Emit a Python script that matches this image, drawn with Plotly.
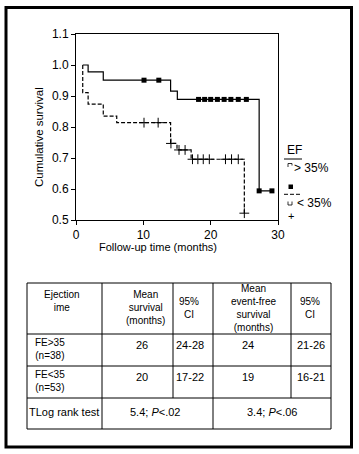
import plotly.graph_objects as go

# ---------------- data ----------------
# EF > 35% (solid) Kaplan-Meier steps
ef_hi_t = [1.0, 1.8, 4.05, 14.05, 15.05, 27.2, 29.1]
ef_hi_s = [1.0, 0.978, 0.951, 0.916, 0.889, 0.594, 0.594]
ef_hi_cens_t = [10.1, 12.3, 18.2, 19.1, 20.0, 21.0, 22.0, 23.0, 24.1, 25.3, 27.2, 29.1]
ef_hi_cens_s = [0.951, 0.951, 0.889, 0.889, 0.889, 0.889, 0.889, 0.889, 0.889, 0.889, 0.594, 0.594]

# EF < 35% (dashed)
ef_lo_t = [1.0, 1.0, 1.8, 4.05, 6.05, 14.05, 15.0, 17.1, 25.0]
ef_lo_s = [1.0, 0.911, 0.874, 0.835, 0.814, 0.747, 0.726, 0.696, 0.522]
ef_lo_cens_t = [10.1, 12.2, 14.1, 15.3, 16.2, 17.3, 18.1, 18.9, 19.8, 22.2, 23.1, 24.1, 25.0]
ef_lo_cens_s = [0.814, 0.814, 0.747, 0.726, 0.726, 0.696, 0.696, 0.696, 0.696, 0.696, 0.696, 0.696, 0.522]

x_ticks = [0, 10, 20, 30]
y_ticks = [0.5, 0.6, 0.7, 0.8, 0.9, 1.0, 1.1]

# table
header_lines = [["Ejection", "ime"],
                ["Mean", "survival", "(months)"],
                ["95%", "CI"],
                ["Mean", "event-free", "survival", "(months)"],
                ["95%", "CI"]]
row_labels = [["FE>35", "(n=38)"], ["FE&lt;35", "(n=53)"]]
mean_surv = ["26", "20"]
ci_surv = ["24-28", "17-22"]
mean_efs = ["24", "19"]
ci_efs = ["21-26", "16-21"]
logrank_label = "TLog rank test"
logrank_surv = "5.4; <i>P</i>&lt;.02"
logrank_efs = "3.4; <i>P</i>&lt;.06"

# ---------------- layout helpers ----------------
W, H = 359, 454
L, R, T, B = 76, 278, 34, 220
FONT = "Liberation Sans, Arial, sans-serif"


def px(x):
    return (x - L) / (R - L)


def py(y):
    return (B - y) / (B - T)


fig = go.Figure()

fig.add_trace(go.Scatter(x=ef_hi_t, y=ef_hi_s, mode="lines", line_shape="hv",
                         line=dict(color="black", width=1.2), showlegend=False,
                         hoverinfo="skip"))
fig.add_trace(go.Scatter(x=ef_hi_cens_t, y=ef_hi_cens_s, mode="markers",
                         marker=dict(symbol="square", size=5, color="black"),
                         showlegend=False))
fig.add_trace(go.Scatter(x=ef_lo_t, y=ef_lo_s, mode="lines", line_shape="hv",
                         line=dict(color="black", width=1.2, dash="4px,2px"),
                         showlegend=False, hoverinfo="skip"))
fig.add_trace(go.Scatter(x=ef_lo_cens_t, y=ef_lo_cens_s, mode="markers",
                         marker=dict(symbol="cross-thin", size=7,
                                     line=dict(color="black", width=1)),
                         showlegend=False))

shapes = []
annotations = []

# outer frame
shapes.append(dict(type="rect", xref="paper", yref="paper",
                   x0=px(6), x1=px(351.5), y0=py(7.5), y1=py(447),
                   line=dict(color="black", width=3)))

# axis titles
annotations.append(dict(xref="paper", yref="paper", x=px(39), y=py(137),
                        text="Cumulative survival", textangle=-90, showarrow=False,
                        font=dict(size=11.5, family=FONT, color="black"),
                        xanchor="center", yanchor="middle"))
annotations.append(dict(xref="paper", yref="paper", x=px(158), y=py(247),
                        text="Follow-up time (months)", showarrow=False,
                        font=dict(size=11, family=FONT, color="black"),
                        xanchor="center", yanchor="middle"))

# legend
annotations.append(dict(xref="paper", yref="paper", x=px(285), y=py(150),
                        text="EF", showarrow=False, xanchor="left", yanchor="middle",
                        font=dict(size=12, family=FONT, color="black")))
shapes.append(dict(type="line", xref="paper", yref="paper", x0=px(284), x1=px(302),
                   y0=py(159), y1=py(159), line=dict(color="black", width=1)))
# tiny open glyph before "> 35%"
shapes.append(dict(type="path", xref="paper", yref="paper",
                   path=f"M {px(288)} {py(167)} L {px(288)} {py(163.5)} "
                        f"L {px(292)} {py(163.5)} L {px(292)} {py(165.5)}",
                   line=dict(color="black", width=0.8)))
annotations.append(dict(xref="paper", yref="paper", x=px(292), y=py(168),
                        text="> 35%", showarrow=False, xanchor="left", yanchor="middle",
                        font=dict(size=12, family=FONT, color="black")))
shapes.append(dict(type="rect", xref="paper", yref="paper", x0=px(288.5), x1=px(293),
                   y0=py(189), y1=py(184.5), fillcolor="black", line=dict(width=0)))
shapes.append(dict(type="line", xref="paper", yref="paper", x0=px(284), x1=px(302),
                   y0=py(194.3), y1=py(194.3),
                   line=dict(color="black", width=1, dash="4px,2px")))
# tiny open glyph before "< 35%"
shapes.append(dict(type="path", xref="paper", yref="paper",
                   path=f"M {px(288)} {py(201.5)} L {px(288)} {py(205)} "
                        f"L {px(292)} {py(205)} L {px(292)} {py(201.5)}",
                   line=dict(color="black", width=0.8)))
annotations.append(dict(xref="paper", yref="paper", x=px(295), y=py(203),
                        text="&lt; 35%", showarrow=False, xanchor="left", yanchor="middle",
                        font=dict(size=12, family=FONT, color="black")))
annotations.append(dict(xref="paper", yref="paper", x=px(290.5), y=py(215.5),
                        text="+", showarrow=False, xanchor="center", yanchor="middle",
                        font=dict(size=11, family=FONT, color="black")))

# table grid
col_x = [27, 102, 173, 213, 291, 331]
row_y = [283, 334, 366, 398, 429]
for yy in row_y:
    shapes.append(dict(type="line", xref="paper", yref="paper", x0=px(col_x[0]),
                       x1=px(col_x[-1]), y0=py(yy), y1=py(yy),
                       line=dict(color="black", width=1)))
for xx in col_x:
    y_end = row_y[-1] if xx in (27, 102, 213, 331) else row_y[3]
    shapes.append(dict(type="line", xref="paper", yref="paper", x0=px(xx), x1=px(xx),
                       y0=py(row_y[0]), y1=py(y_end),
                       line=dict(color="black", width=1)))

TF = dict(size=11, family=FONT, color="black")
TF_MULTI = dict(size=10, family=FONT, color="black")


def txt(x, y, s, font=TF):
    annotations.append(dict(xref="paper", yref="paper", x=px(x), y=py(y), text=s,
                            showarrow=False, xanchor="center", yanchor="middle",
                            align="center", font=font))


# header
hdr_cx = [62, 145, 189, 253, 310]
hdr_cy = [301, 307, 307.5, 308, 307.5]
for cx, cy, lines in zip(hdr_cx, hdr_cy, header_lines):
    txt(cx, cy, "<br>".join(lines), TF_MULTI)

# data rows
row_mid_y = [349, 381]
for r in range(2):
    y0 = row_mid_y[r]
    txt(50, y0, "<br>".join(row_labels[r]), TF_MULTI)
    txt(142, y0 - 4, mean_surv[r])
    txt(190, y0 - 4, ci_surv[r])
    txt(248, y0 - 4, mean_efs[r])
    txt(311, y0 - 4, ci_efs[r])

txt(64, 412, logrank_label)
txt(155, 412, logrank_surv)
txt(272, 412, logrank_efs)

fig.update_layout(
    width=W, height=H,
    margin=dict(l=L, r=W - R, t=T, b=H - B, pad=0),
    paper_bgcolor="white", plot_bgcolor="white",
    shapes=shapes, annotations=annotations,
    font=dict(family=FONT, color="black", size=12),
    xaxis=dict(range=[0, 30], tickvals=x_ticks, ticks="outside", ticklen=4,
               tickcolor="black", showline=True, linecolor="black", linewidth=1,
               mirror=True, showgrid=False, zeroline=False,
               tickfont=dict(size=12, family=FONT, color="black")),
    yaxis=dict(range=[0.5, 1.1], tickvals=y_ticks, tickformat=".1f", ticks="outside",
               ticklen=4, tickcolor="black", showline=True, linecolor="black",
               linewidth=1, mirror=True, showgrid=False, zeroline=False,
               tickfont=dict(size=12, family=FONT, color="black")),
)

fig.write_html("out.html",
               config={"displayModeBar": False},
               post_script="document.body.style.margin='0';"
                           "document.body.style.overflow='hidden';")
